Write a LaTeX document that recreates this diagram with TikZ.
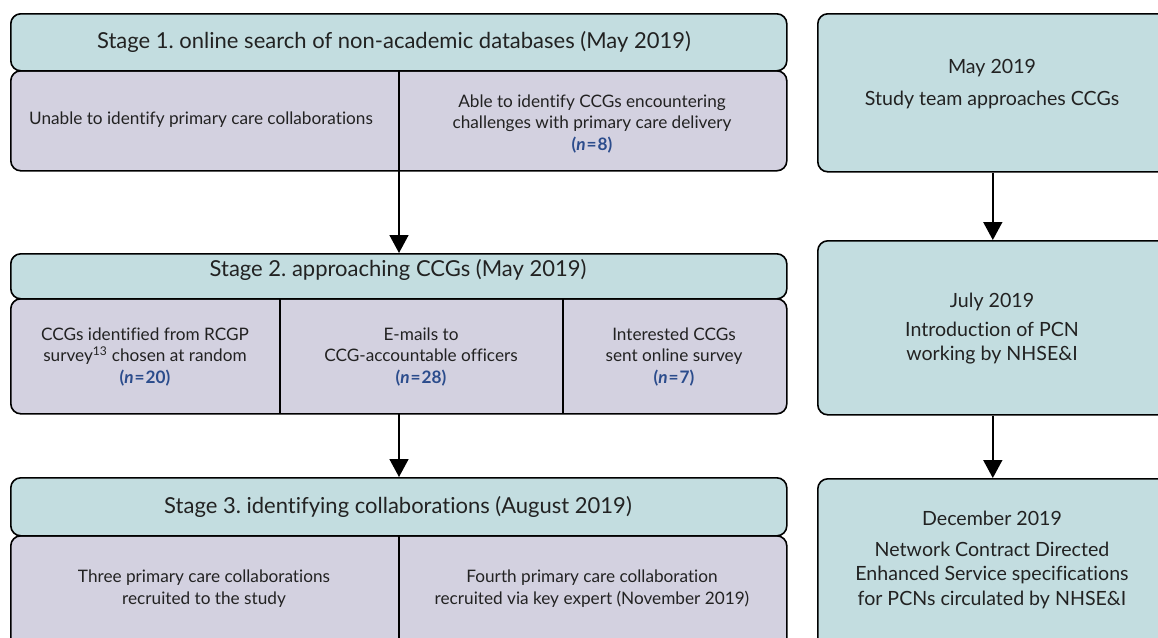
\documentclass[tikz,border=0pt]{standalone}
\usepackage{fontspec}
\setmainfont[Ligatures=NoCommon]{Lato}
\frenchspacing
\usetikzlibrary{arrows.meta,positioning}
\definecolor{headfill}{HTML}{C3DDE0}
\definecolor{bodyfill}{HTML}{D3D1E0}
\definecolor{nblue}{HTML}{2B4C8C}
\definecolor{txt}{HTML}{222222}
\newcommand{\nval}[1]{{\color{nblue}\bfseries(\textit{n}\kern1pt=\kern1pt#1)}}
\tikzset{
  box/.style={draw=black, line width=1.6pt, rounded corners=10pt, anchor=north west, inner sep=0pt},
  headbox/.style={box, fill=headfill},
  bodybox/.style={box, fill=bodyfill},
  htext/.style={font=\frenchspacing\fontsize{22}{26}\selectfont, text=txt, inner sep=0pt},
  ctext/.style={font=\fontsize{17.2}{21.8}\selectfont, text=txt, align=center, inner sep=0pt},
  rtext/.style={font=\fontsize{19.6}{24.5}\selectfont, text=txt, align=center, inner sep=0pt},
  divider/.style={line width=1.6pt},
  flow/.style={line width=1.6pt, -{Triangle[width=19pt,length=18pt]}},
}
\begin{document}
\begin{tikzpicture}[x=1pt,y=-1pt]
\path[clip] (0,0) rectangle (1158,637);
% Stage 1
\node[bodybox, minimum width=776pt, minimum height=100pt] (b1) at (10,70) {};
\node[headbox, minimum width=776pt, minimum height=57pt] (h1) at (10,13) {};
\node[htext] (h1t) at (394,42) {Stage 1. online search of non-academic databases (May 2019)};
\coordinate (d1t) at (399,70);
\coordinate (d1b) at (399,170);
\draw[divider] (d1t) -- (d1b);
\node[ctext] (c11) at (201,120) {Unable to identify primary care collaborations};
\node[ctext] (c12) at (592,124) {Able to identify CCGs encountering\\challenges with primary care delivery\\\nval{8}};
% Stage 2
\node[bodybox, minimum width=776pt, minimum height=115pt] (b2) at (10,298) {};
\node[headbox, minimum width=776pt, minimum height=45pt] (h2) at (10,253) {};
\node[htext] (h2t) at (398,270) {Stage 2. approaching CCGs (May 2019)};
\coordinate (d2at) at (280,298);
\coordinate (d2ab) at (280,413);
\coordinate (d2bt) at (563,298);
\coordinate (d2bb) at (563,413);
\coordinate (a2s) at (399,413);
\draw[divider] (d2at) -- (d2ab);
\draw[divider] (d2bt) -- (d2bb);
\node[ctext] (c21) at (145,357) {CCGs identified from RCGP\\survey\textsuperscript{13} chosen at random\\\nval{20}};
\node[ctext] (c22) at (421,357) {E-mails to\\CCG-accountable officers\\\nval{28}};
\node[ctext] (c23) at (674,357) {Interested CCGs\\sent online survey\\\nval{7}};
% Stage 3
\node[bodybox, minimum width=776pt, minimum height=120pt] (b3) at (10,535) {};
\node[headbox, minimum width=776pt, minimum height=58pt] (h3) at (10,477) {};
\node[htext] (h3t) at (398,507) {Stage 3. identifying collaborations (August 2019)};
\coordinate (d3t) at (399,535);
\coordinate (d3b) at (399,660);
\draw[divider] (d3t) -- (d3b);
\node[ctext] (c31) at (204,589) {Three primary care collaborations\\recruited to the study};
\node[ctext] (c32) at (592,589) {Fourth primary care collaboration\\recruited via key expert (November 2019)};
% Right column
\node[headbox, minimum width=350pt, minimum height=158pt] (r1) at (817,13) {};
\node[headbox, minimum width=350pt, minimum height=174pt] (r2) at (817,240) {};
\node[headbox, minimum width=350pt, minimum height=190pt] (r3) at (817,478) {};
\node[rtext] (r1t) at (992,84) {May 2019\\[8pt]Study team approaches CCGs};
\node[rtext] (r2t) at (992,329) {July 2019\\[4pt]Introduction of PCN\\working by NHSE\&I};
\node[rtext] (r3t) at (992,560) {December 2019\\[6pt]Network Contract Directed\\Enhanced Service specifications\\for PCNs circulated by NHSE\&I};
% Arrows
\draw[flow] (d1b) -- (d1b |- h2.north);
\draw[flow] (a2s) -- (a2s |- h3.north);
\draw[flow] (r1.south) -- (r2.north);
\draw[flow] (r2.south) -- (r3.north);
\end{tikzpicture}
\end{document}
